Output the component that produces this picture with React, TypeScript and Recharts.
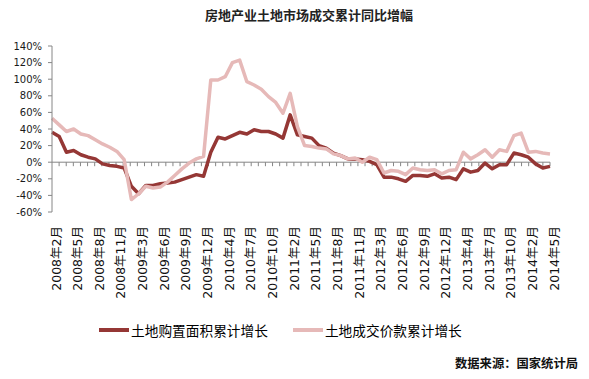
import { LineChart, Line, XAxis, YAxis, ReferenceLine } from 'recharts'

// cumulative stats: Jan is merged into Feb, so each year starts at month 2
const years = [2008, 2009, 2010, 2011, 2012, 2013, 2014]
const fullYearMonths = [2, 3, 4, 5, 6, 7, 8, 9, 10, 11, 12]
const lastYearMonths = [2, 3, 4, 5]

const categories = years.flatMap((y) =>
  (y === 2014 ? lastYearMonths : fullYearMonths).map((m) => `${y}年${m}月`),
)

// 土地购置面积累计增长 (%)
const areaGrowth = [
  36, 31, 12, 14, 9, 6, 4, -2, -4, -5, -7,
  -29, -38, -28, -28, -26, -25, -24, -21, -18, -15, -17,
  12, 30, 28, 32, 36, 34, 39, 37, 37, 34, 29,
  57, 33, 31, 29, 20, 17, 11, 8, 4, 4, 3,
  1, -3, -18, -18, -20, -23, -16, -16, -17, -14, -19,
  -18, -21, -8, -12, -10, -1, -8, -3, -3, 11, 9,
  6, -2, -7, -5,
]

// 土地成交价款累计增长 (%)
const priceGrowth = [
  53, 45, 37, 40, 34, 32, 27, 22, 18, 13, 3,
  -45, -38, -29, -31, -30, -24, -16, -8, -1, 4, 7,
  99, 99, 103, 120, 123, 97, 93, 88, 79, 72, 59,
  83, 43, 20, 19, 17, 16, 10, 8, 4, 5, 0,
  6, 3, -13, -10, -11, -15, -7, -9, -10, -9, -14,
  -10, -9, 12, 4, 9, 15, 6, 15, 13, 32, 35,
  12, 13, 11, 10,
]

const yTicks = [-60, -40, -20, 0, 20, 40, 60, 80, 100, 120, 140]

const series = [
  { key: 'area', name: '土地购置面积累计增长', color: '#953735' },
  { key: 'price', name: '土地成交价款累计增长', color: '#E6B9B8' },
]

const data = categories.map((month, i) => ({
  month,
  area: areaGrowth[i],
  price: priceGrowth[i],
}))

const axisGray = '#868686'
const cjk = "'Noto Sans CJK SC', sans-serif"

function MonthTick({ x, y, payload }: any) {
  const tx = x + 4
  return (
    <text
      x={tx}
      y={y}
      transform={`rotate(-90, ${tx}, ${y})`}
      textAnchor="end"
      dominantBaseline="central"
      fontSize={12.5}
      fontFamily={"'DejaVu Sans', 'Noto Sans CJK SC', sans-serif"}
      fill="#111"
    >
      {payload.value}
    </text>
  )
}

// zero line doubles as the category axis, with ticks between categories
function ZeroAxis(props: any) {
  const { x1, y1, x2 } = props
  const step = (x2 - x1) / categories.length
  return (
    <g>
      <line x1={x1} y1={y1} x2={x2} y2={y1} stroke={axisGray} strokeWidth={1} />
      {categories.map((c, i) => {
        const tx = x1 + step * (i + 1)
        return <line key={c} x1={tx} y1={y1} x2={tx} y2={y1 + 4} stroke={axisGray} />
      })}
    </g>
  )
}

export default function App() {
  return (
    <div
      style={{
        position: 'absolute',
        left: 0,
        top: 0,
        width: 589,
        height: 379,
        background: '#fff',
        fontFamily: cjk,
      }}
    >
      <div
        style={{
          position: 'absolute',
          left: 0,
          width: 618,
          top: 5,
          textAlign: 'center',
          fontSize: 13,
          fontWeight: 'bold',
          color: '#222',
        }}
      >
        房地产业土地市场成交累计同比增幅
      </div>

      <LineChart
        width={589}
        height={379}
        data={data}
        margin={{ top: 46, right: 39, bottom: 77, left: 0 }}
      >
        <XAxis
          dataKey="month"
          interval={2}
          height={90}
          axisLine={false}
          tickLine={false}
          tickSize={0}
          tickMargin={14}
          tick={<MonthTick />}
        />
        <YAxis
          width={52}
          domain={[-60, 140]}
          ticks={yTicks}
          interval={0}
          tickFormatter={(v) => `${v}%`}
          axisLine={{ stroke: axisGray }}
          tickLine={{ stroke: axisGray }}
          tickSize={4}
          tickMargin={6}
          tick={{ fontSize: 10, fill: '#1a1a1a', fontFamily: "'DejaVu Sans', sans-serif" }}
        />
        <ReferenceLine y={0} shape={<ZeroAxis />} />
        {series.map((s) => (
          <Line
            key={s.key}
            type="linear"
            dataKey={s.key}
            name={s.name}
            stroke={s.color}
            strokeWidth={3.5}
            strokeLinejoin="round"
            dot={false}
            activeDot={false}
            isAnimationActive={false}
          />
        ))}
      </LineChart>

      <div
        style={{
          position: 'absolute',
          left: 99,
          top: 320,
          display: 'flex',
          alignItems: 'center',
          gap: 25,
          fontSize: 13.7,
          color: '#000',
        }}
      >
        {series.map((s) => (
          <div key={s.key} style={{ display: 'flex', alignItems: 'center' }}>
            <span
              style={{
                display: 'inline-block',
                width: 30,
                height: 3.5,
                background: s.color,
                marginRight: 2,
              }}
            />
            <span>{s.name}</span>
          </div>
        ))}
      </div>

      <div
        style={{
          position: 'absolute',
          right: 11,
          top: 354,
          fontSize: 12.3,
          fontWeight: 'bold',
          color: '#111',
        }}
      >
        数据来源：国家统计局
      </div>
    </div>
  )
}
